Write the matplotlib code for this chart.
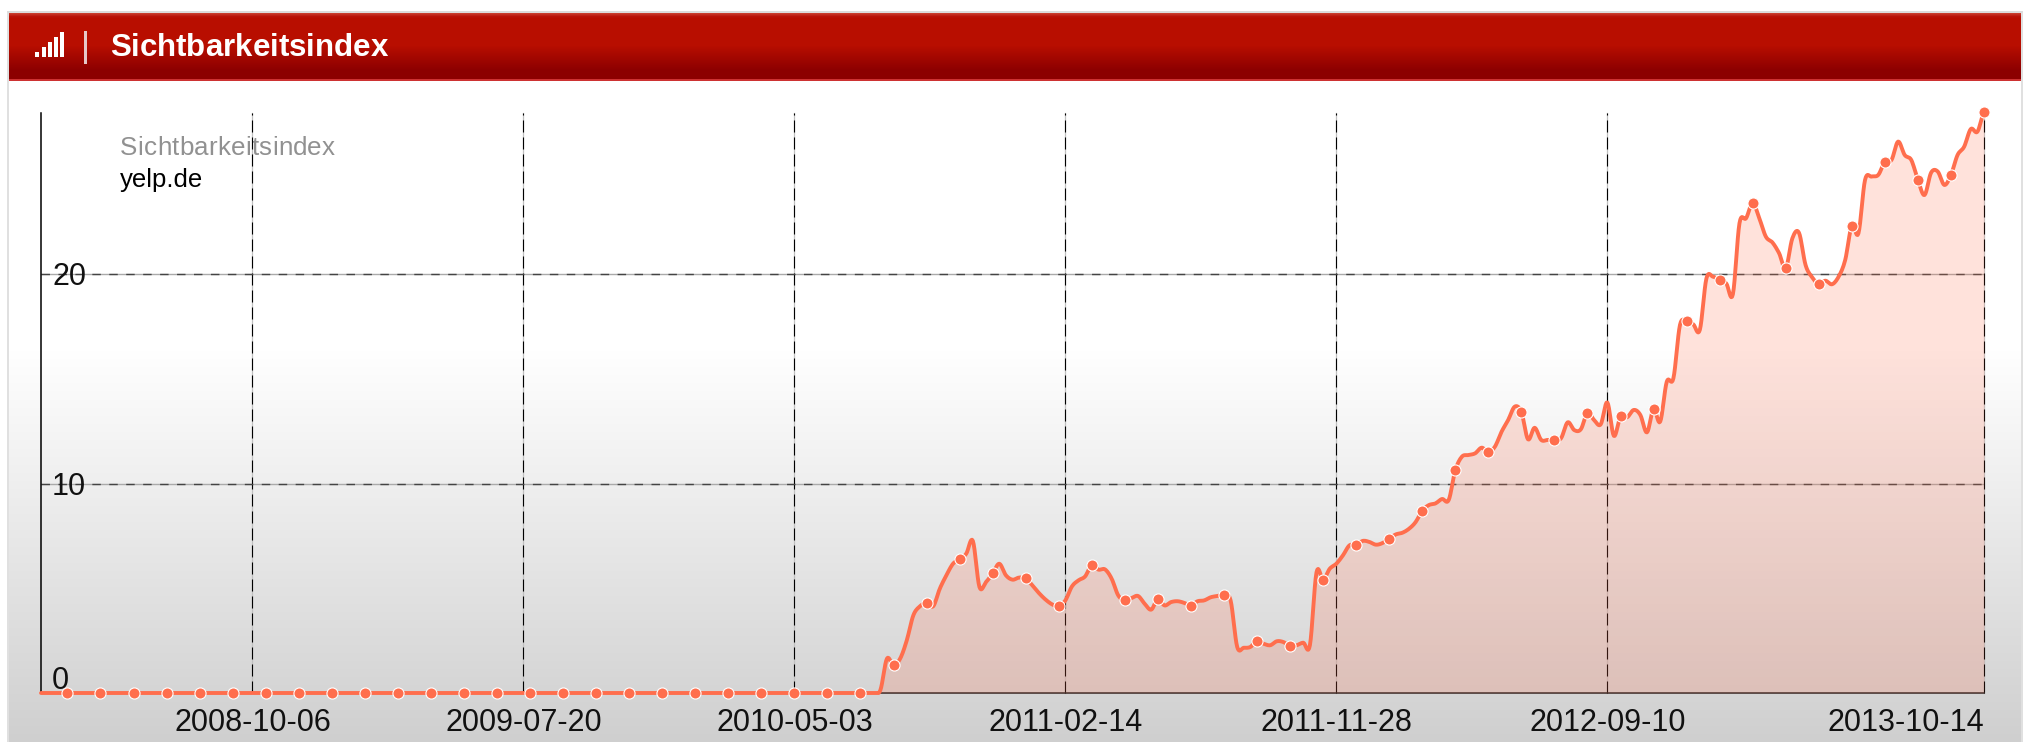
#!/usr/bin/env python3

import matplotlib
matplotlib.use('Agg')
import matplotlib.pyplot as plt
import matplotlib.dates as mdates
from matplotlib.font_manager import FontProperties
from matplotlib.patches import Rectangle
from matplotlib.textpath import text_to_path
import numpy as np
import pandas as pd

# weekly index values
start_date = '2008-02-25'
zero_weeks = [0.0] * 124
rise_2010_2011 = [
    0.0, 0.0, 0.0, 0.13, 1.64, 1.32, 1.64, 2.51, 3.71, 4.14,
    4.30, 4.14, 4.98, 5.62, 6.17, 6.38, 6.65, 7.26, 5.06, 5.30,
    5.71, 6.17, 5.62, 5.41, 5.51, 5.47, 5.14, 4.77, 4.46, 4.23,
    4.14, 4.42, 5.09, 5.38, 5.57, 6.11, 5.89, 5.90, 5.46, 4.66,
    4.42, 4.53, 4.63, 4.26, 3.98, 4.50, 4.18, 4.34, 4.38, 4.30,
    4.17, 4.38, 4.42, 4.57, 4.63, 4.68, 4.42, 2.20, 2.16, 2.20,
]
rise_2011_2012 = [
    2.50, 2.35, 2.28, 2.47, 2.43, 2.24, 2.28, 2.40, 2.28, 5.76,
    5.41, 5.93, 6.17, 6.57, 7.05, 7.05, 7.26, 7.21, 7.08, 7.16,
    7.37, 7.57, 7.65, 7.84, 8.16, 8.70, 8.97, 9.05, 9.26, 9.21,
    10.63, 11.28, 11.36, 11.44, 11.71, 11.49, 11.76, 12.47, 13.03, 13.67,
    13.41, 12.11, 12.66, 12.08, 12.08, 12.08, 12.16, 12.92, 12.55, 12.59,
    13.38, 13.03, 12.82, 13.87, 12.27, 13.21, 13.16, 13.51, 13.27, 12.44,
]
rise_2013 = [
    13.56, 12.95, 14.86, 15.02, 17.57, 17.74, 17.60, 17.33, 19.79, 19.87,
    19.71, 19.55, 19.03, 22.42, 22.66, 23.39, 22.66, 21.78, 21.50, 20.99,
    20.27, 21.70, 21.97, 20.43, 19.84, 19.51, 19.68, 19.51, 19.87, 20.67,
    22.31, 21.94, 24.49, 24.65, 24.73, 25.35, 25.44, 26.32, 25.68, 25.44,
    24.49, 23.77, 24.84, 24.89, 24.25, 24.73, 25.68, 26.08, 26.92, 26.79,
    27.72,
]
visibility = np.array(zero_weeks + rise_2010_2011 + rise_2011_2012 + rise_2013)
dates = pd.date_range(start_date, periods=len(visibility), freq='7D')

x_tick_labels = ['2008-10-06', '2009-07-20', '2010-05-03', '2011-02-14',
                 '2011-11-28', '2012-09-10', '2013-10-14']
y_ticks = [0, 10, 20]

W, H = 2028, 742
line_color = '#ff6e4d'
plt.rcParams['font.family'] = ['Liberation Sans', 'DejaVu Sans']


def smooth(x, y, steps=8):
    """Catmull-Rom curve through the weekly points, only for drawing"""
    xs, ys = [], []
    for i in range(len(x) - 1):
        p0, p1, p2, p3 = y[max(i - 1, 0)], y[i], y[i + 1], y[min(i + 2, len(y) - 1)]
        for t in np.linspace(0, 1, steps, endpoint=False):
            xs.append(x[i] + (x[i + 1] - x[i]) * t)
            ys.append(0.5 * (2 * p1 + (p2 - p0) * t + (2 * p0 - 5 * p1 + 4 * p2 - p3) * t ** 2
                             + (3 * p1 - p0 - 3 * p2 + p3) * t ** 3))
    xs.append(x[-1])
    ys.append(y[-1])
    return np.array(xs), np.maximum(np.array(ys), 0)


def spaced_text(ax, x, y, s, total_width, color, size, weight='normal', zorder=6):
    """One text per letter, because matplotlib has no letter spacing"""
    prop = FontProperties(family='Liberation Sans', size=size, weight=weight)
    widths = [text_to_path.get_text_width_height_descent(s[:i], prop, False)[0] * 100 / 72
              for i in range(1, len(s) + 1)]
    extra = (total_width - widths[-1]) / (len(s) - 1)
    for i, ch in enumerate(s):
        offset = (widths[i - 1] if i else 0) + extra * i
        ax.text(x + offset, y, ch, color=color, fontproperties=prop,
                va='baseline', ha='left', zorder=zorder)


fig = plt.figure(figsize=(W / 100, H / 100), dpi=100, facecolor='white')

# page furniture in pixel coordinates
bg = fig.add_axes([0, 0, 1, 1])
bg.set_xlim(0, W)
bg.set_ylim(H, 0)
bg.axis('off')

body = np.interp(np.arange(80, H), [80, 350, H], [255, 255, 207])
bg.imshow(np.repeat(body[:, None], 3, axis=1)[:, None, :].astype(np.uint8),
          extent=[9, 2021, H, 80], aspect='auto', zorder=1)
header = np.array([np.interp(np.arange(13, 81), [13, 16, 18, 45, 70, 78, 79, 81], c)
                   for c in ([200, 185, 184, 184, 140, 140, 205, 205],
                             [60, 20, 14, 14, 0, 0, 50, 50],
                             [45, 10, 0, 0, 0, 0, 50, 50])]).T
bg.imshow(header[:, None, :].astype(np.uint8), extent=[9, 2021, 81, 13], aspect='auto', zorder=2)
bg.set_xlim(0, W)
bg.set_ylim(H, 0)
bg.add_patch(Rectangle((7, 11), 2, H, facecolor='#e0e0e0', zorder=3))
bg.add_patch(Rectangle((2021, 11), 2, H, facecolor='#e0e0e0', zorder=3))
bg.add_patch(Rectangle((7, 11), 2016, 2, facecolor='#dcdcdc', zorder=3))

# signal icon and separator in the header
for bx, by in [(35, 52), (42, 47), (48, 42), (54, 37), (60, 32)]:
    bg.add_patch(Rectangle((bx, by), 4, 57 - by, facecolor='white', zorder=4))
bg.add_patch(Rectangle((84, 31), 3, 33, facecolor='#e6c8c8', zorder=4))
spaced_text(bg, 110, 56.5, 'Sichtbarkeitsindex', 278, 'white', 22.5, weight='bold', zorder=5)

# chart
ax = fig.add_axes([41 / W, (H - 693) / H, 1943 / W, 580 / H])
ax.patch.set_alpha(0)
ax.set_xlim(dates[0], dates[-1])
ax.set_ylim(0, 580 / 20.95)
for side in ['top', 'right']:
    ax.spines[side].set_visible(False)
ax.spines['left'].set_linewidth(1.1)
ax.spines['left'].set_color('black')
ax.spines['bottom'].set_linewidth(1.1)
ax.spines['bottom'].set_color('#222222')

tick_dates = pd.to_datetime(x_tick_labels)
ax.set_xticks(tick_dates)
ax.set_xticklabels(x_tick_labels, fontsize=22, color='#111111')
ax.tick_params(axis='x', length=0, pad=10.5)
ax.get_xticklabels()[-1].set_ha('right')
ax.get_xticklabels()[-1].set_x(mdates.date2num(tick_dates[-1]))
ax.set_yticks([])

for d in tick_dates:
    ax.axvline(d, color='#c0c0c0', lw=0.9, zorder=1, clip_on=False)
    ax.axvline(d, color='black', lw=0.8, dashes=(10.8, 4.5), zorder=1.1, clip_on=False)
for v in y_ticks[1:]:
    ax.axhline(v, color='#aaaaaa', lw=1.0, zorder=1)
    ax.axhline(v, color='#444444', lw=1.0, dashes=(6.1, 6.1), zorder=1.1)

for v in y_ticks:
    # labels sit inside the plot, above the baseline for the zero
    ax.annotate(str(v), (0, v), xycoords=('axes fraction', 'data'),
                xytext=(8, 8.5 if v == 0 else -2.2), textcoords='offset points',
                fontsize=22, color='#111111', ha='left', va='center', zorder=2)

sx, sy = smooth(mdates.date2num(dates), visibility)
ax.fill_between(sx, sy, 0, color=line_color, alpha=0.2, lw=0, zorder=3)
ax.plot(sx, sy, color=line_color, lw=2.8, solid_capstyle='round', zorder=4, clip_on=False)
ax.plot(dates[4::5], visibility[4::5], ls='none', marker='o', ms=8, mfc=line_color,
        mec='white', mew=0.8, zorder=5, clip_on=False)

spaced_text(bg, 120, 155, 'Sichtbarkeitsindex', 215, '#919191', 18.7)
bg.text(120, 187, 'yelp.de', color='black', fontsize=18.5, va='baseline', ha='left', zorder=6)

plt.savefig('out.png', dpi=100, facecolor='white')
plt.close()
